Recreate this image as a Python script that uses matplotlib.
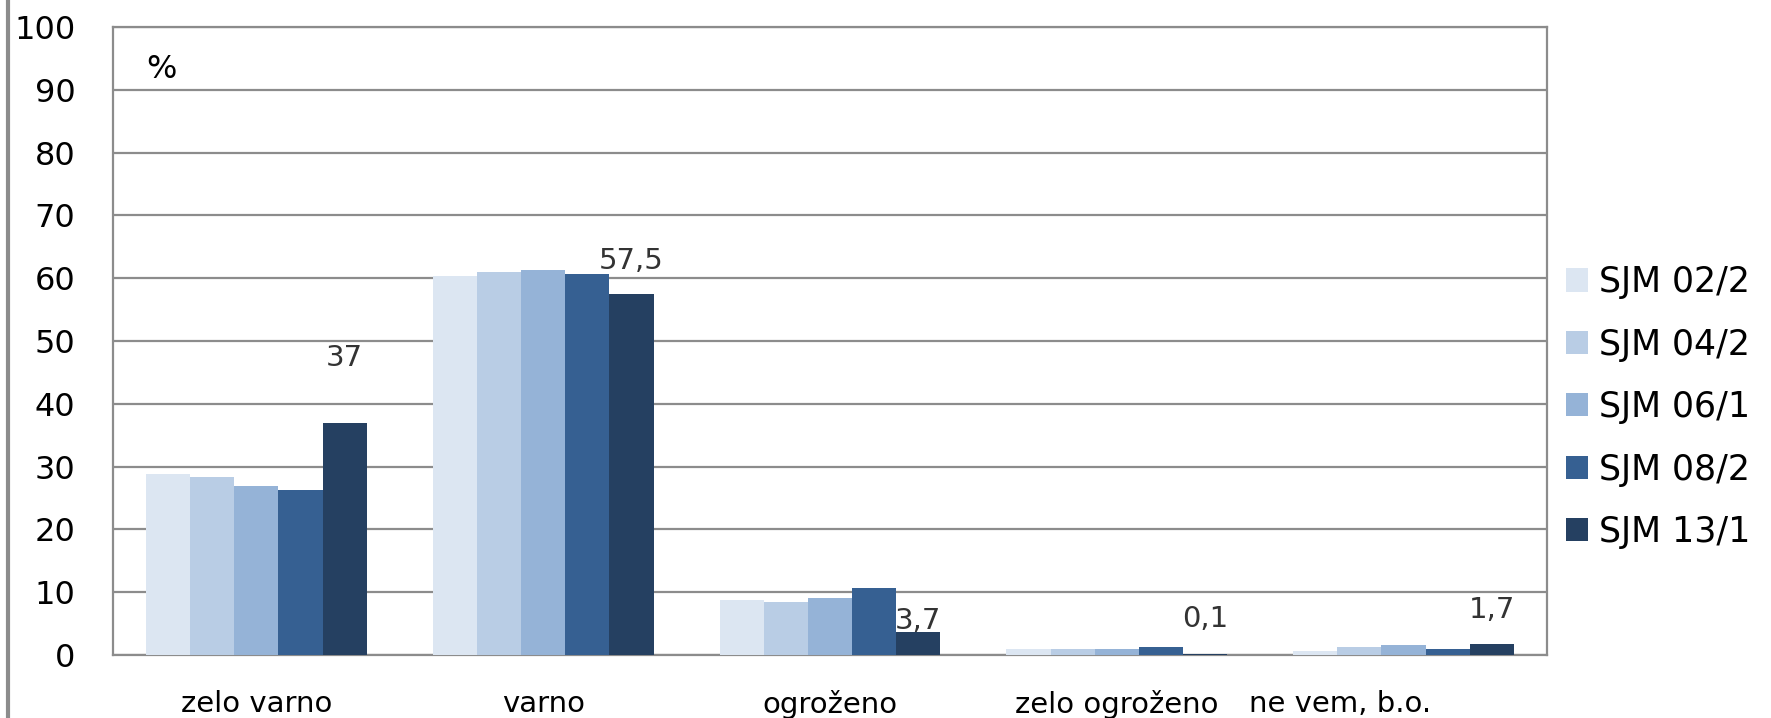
import matplotlib.pyplot as plt
import matplotlib.transforms as mtransforms
import numpy as np
from matplotlib.lines import Line2D

# podatki
kategorije = ['zelo varno', 'varno', 'ogroženo', 'zelo ogroženo', 'ne vem, b.o.']
serije = ['SJM 02/2', 'SJM 04/2', 'SJM 06/1', 'SJM 08/2', 'SJM 13/1']
sjm_02_2 = [28.8, 60.3, 8.8, 0.9, 0.6]
sjm_04_2 = [28.3, 61.0, 8.5, 1.0, 1.3]
sjm_06_1 = [26.9, 61.3, 9.1, 1.0, 1.6]
sjm_08_2 = [26.3, 60.7, 10.6, 1.3, 0.9]
sjm_13_1 = [37.0, 57.5, 3.7, 0.1, 1.7]
oznake = ['37', '57,5', '3,7', '0,1', '1,7']
barve = ['#DCE6F2', '#B9CDE5', '#95B3D7', '#366092', '#254061']

vrednosti = [sjm_02_2, sjm_04_2, sjm_06_1, sjm_08_2, sjm_13_1]

fig = plt.figure(figsize=(17.71, 7.18), dpi=100)
ax = fig.add_axes([0.0638, 0.0877, 0.8097, 0.8747])

x = np.arange(len(kategorije))
sirina = 0.154
for i, (ime, v) in enumerate(zip(serije, vrednosti)):
    ax.bar(x + (i - 2) * sirina, v, sirina, color=barve[i], label=ime, zorder=3)

# oznake nad zadnjo serijo (premaknjene kot v originalu)
zamik = [10.3, 5.3, 1.7, 5.6, 5.5]
for i, t in enumerate(oznake):
    ax.text(x[i] + 2 * sirina, sjm_13_1[i] + zamik[i], t, ha='center', va='center',
            fontsize=21, color='#333333', family='DejaVu Sans', zorder=4)

ax.set_xlim(-0.5, 4.5)
ax.set_ylim(0, 100)
ax.set_yticks(range(0, 101, 10))
ax.set_xticks(x)
ax.set_xticklabels(kategorije, fontsize=21)
ax.tick_params(axis='y', length=0, pad=27, labelsize=23)
ax.tick_params(axis='x', length=0, pad=25)
ax.yaxis.grid(True, color='#8C8C8C', linewidth=1.6, zorder=0)
for s in ax.spines.values():
    s.set_color('#8C8C8C')
    s.set_linewidth(1.6)

# zadnja oznaka je v originalu zamaknjena levo
zadnja = ax.get_xticklabels()[-1]
zadnja.set_transform(zadnja.get_transform() + mtransforms.ScaledTranslation(-0.64, 0, fig.dpi_scale_trans))

ax.text(0.034, 0.933, '%', transform=ax.transAxes, ha='center', va='center', fontsize=23)

fig.legend(loc='center left', bbox_to_anchor=(0.8665, 0.433), frameon=False,
           prop={'family': 'DejaVu Sans', 'size': 25}, handlelength=0.65, handleheight=0.65,
           handletextpad=0.3, labelspacing=0.82)

# siva crta na levem robu
fig.add_artist(Line2D([0.0045, 0.0045], [0, 1], color='#8C8C8C', linewidth=3, transform=fig.transFigure))

plt.savefig('out.png', dpi=100)
